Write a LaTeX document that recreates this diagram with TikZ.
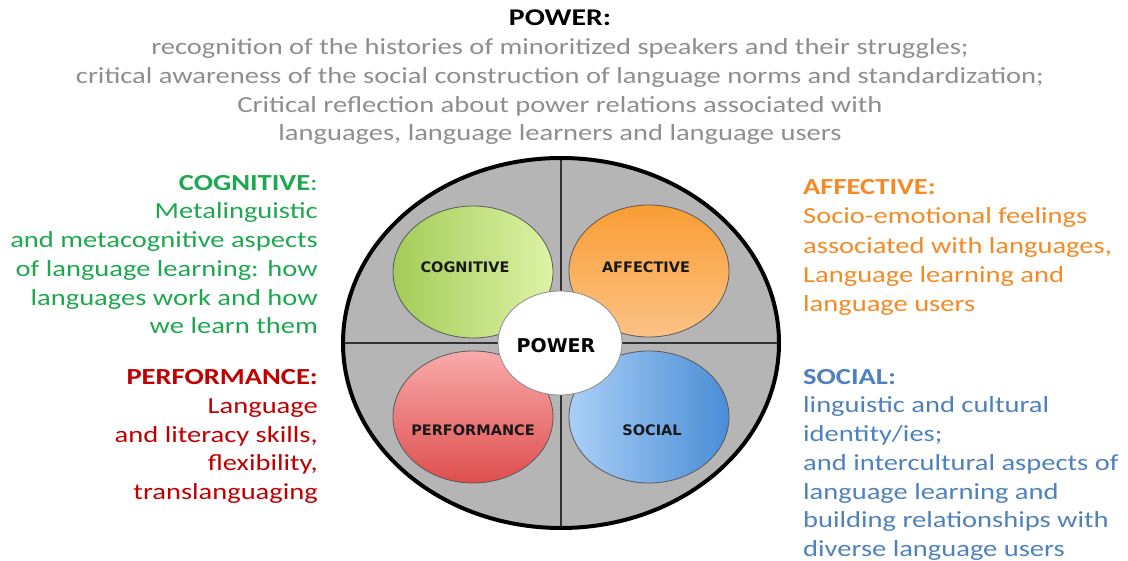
\documentclass[tikz,border=0pt]{standalone}
\usepackage{fontspec}
\setmainfont{Carlito}[FakeStretch=1.24]
\newfontfamily\lblfont{DejaVu Sans}
\usetikzlibrary{shapes.geometric}
\definecolor{greytxt}{HTML}{8E8E8E}
\definecolor{cogtxt}{HTML}{1DA84F}
\definecolor{perftxt}{HTML}{C00000}
\definecolor{afftxt}{HTML}{F48A24}
\definecolor{soctxt}{HTML}{4F81BD}
\definecolor{quad}{HTML}{B5B5B5}
\definecolor{cogA}{HTML}{A4CC58}
\definecolor{cogB}{HTML}{DDF3A6}
\definecolor{affA}{HTML}{F99D34}
\definecolor{affB}{HTML}{FCC285}
\definecolor{perfA}{HTML}{F9AAAA}
\definecolor{perfB}{HTML}{DF4E4E}
\definecolor{socA}{HTML}{AACFF7}
\definecolor{socB}{HTML}{4A8DD6}
\tikzset{
  petal/.style={ellipse, draw=black!65, line width=0.8pt, minimum width=160pt, minimum height=132pt, inner sep=0pt},
  petallbl/.style={font=\lblfont\bfseries\fontsize{14.5}{16}\selectfont, text=black!90, inner sep=0pt},
  sidetxt/.style={font=\fontsize{23}{28.7}\selectfont, inner sep=0pt},
}
\begin{document}
\begin{tikzpicture}[x=1pt,y=-1pt]
\useasboundingbox (0,0) rectangle (1128,561);
% title block
\node[font=\bfseries\fontsize{24}{29}\selectfont, inner sep=0pt] (title) at (560,18) {POWER:};
\node[sidetxt, text=greytxt, align=center, anchor=north] (powtxt) at (560,38.5)
 {recognition of the histories of minoritized speakers and their struggles;\\
  critical awareness of the social construction of language norms and standardization;\\
  Critical reflection about power relations associated with\\
  languages, language learners and language users};
% side blocks
\node[sidetxt, text=cogtxt, align=right, anchor=north east] (cogtxtn) at (318,175)
 {\textbf{COGNITIVE}:\\ Metalinguistic\\ and metacognitive aspects\\ of language learning: how\\ languages work and how\\ we learn them};
\node[sidetxt, text=perftxt, align=right, anchor=north east] (perftxtn) at (318,369.5)
 {\textbf{PERFORMANCE:}\\ Language\\ and literacy skills,\\ flexibility,\\ translanguaging};
\node[sidetxt, text=afftxt, align=left, anchor=north west, font=\fontsize{23}{29.2}\selectfont] (afftxtn) at (803,179.5)
 {\textbf{AFFECTIVE:}\\ Socio-emotional feelings\\ associated with languages,\\ Language learning and\\ language users};
\node[sidetxt, text=soctxt, align=left, anchor=north west] (soctxtn) at (803,369)
 {\textbf{SOCIAL:}\\ linguistic and cultural\\ identity/ies;\\ and intercultural aspects of\\ language learning and\\ building relationships with\\ diverse language users};
% outer ellipse
\node[ellipse, fill=quad, minimum width=436pt, minimum height=370pt, inner sep=0pt] (outer) at (561,343) {};
\draw[line width=2pt, black!80] (outer.north) -- (outer.south);
\draw[line width=2pt, black!80] (outer.west) -- (outer.east);
\node[ellipse, draw=black, line width=4pt, minimum width=436pt, minimum height=370pt, inner sep=0pt] (outerrim) at (561,343) {};
% petals
\node[petal, left color=cogA, right color=cogB] (cog) at (473,272) {};
\node[petal, top color=affA, bottom color=affB] (aff) at (649,271) {};
\node[petal, top color=perfA, bottom color=perfB] (perf) at (473,417) {};
\node[petal, left color=socA, right color=socB] (soc) at (649,417) {};
\node[petallbl] (coglbl) at (465,267) {COGNITIVE};
\node[petallbl] (afflbl) at (646,267) {AFFECTIVE};
\node[petallbl] (perflbl) at (473,430) {PERFORMANCE};
\node[petallbl] (soclbl) at (652,430) {SOCIAL};
% centre
\node[ellipse, fill=white, draw=black!45, line width=0.8pt, minimum width=124pt, minimum height=104pt, inner sep=0pt] (power) at (560,343) {};
\node[font=\lblfont\bfseries\fontsize{19}{21}\selectfont, inner sep=0pt] (powerlbl) at (556,346) {POWER};
\end{tikzpicture}
\end{document}
